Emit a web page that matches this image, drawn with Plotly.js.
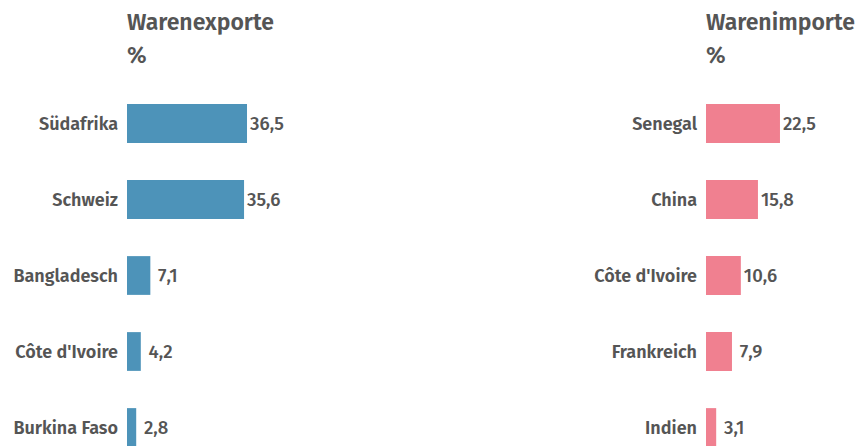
<!DOCTYPE html>
<html>
<head>
<meta charset="utf-8">
<script src="https://cdn.plot.ly/plotly-3.0.1.min.js"></script>
<style>html,body{margin:0;padding:0;background:#fff}#chart{width:857px;height:446px}</style>
</head>
<body>
<div id="chart"></div>
<script>
const exportCountries = ["Südafrika", "Schweiz", "Bangladesch", "Côte d'Ivoire", "Burkina Faso"];
const exportValues = [36.5, 35.6, 7.1, 4.2, 2.8];
const importCountries = ["Senegal", "China", "Côte d'Ivoire", "Frankreich", "Indien"];
const importValues = [22.5, 15.8, 10.6, 7.9, 3.1];
const titleExports = "Warenexporte";
const titleImports = "Warenimporte";
const unitLabel = "%";

const FONT = "Fira Sans, Noto Sans, Open Sans, sans-serif";
const GREY = "#555555";
const fmt = v => (v < 10 ? "\u2008" : "") + v.toFixed(1).replace(".", ",");

const H = 446, TOP = 85;
const plotH = H - TOP;
const pxY = p => (H - p) / plotH;

const barCommon = {
  type: "bar", orientation: "h", width: 0.51,
  textposition: "outside", cliponaxis: false,
  textfont: {family: FONT, size: 18.5, color: GREY, weight: 500},
  hoverinfo: "skip"
};

const traces = [
  Object.assign({}, barCommon, {
    x: exportValues, y: exportCountries, xaxis: "x", yaxis: "y",
    text: exportValues.map(fmt), marker: {color: "#4d93b9"}
  }),
  Object.assign({}, barCommon, {
    x: importValues, y: importCountries, xaxis: "x2", yaxis: "y2",
    text: importValues.map(fmt), marker: {color: "#f08090"}
  })
];

const pxPerUnit = 3.288;
const W = 857;
const lStart = 127, lEnd = 400, rStart = 706, rEnd = 857;
const yRange = [(H - 123.5) / 76, (TOP - 123.5) / 76];

const xa = (a, b, anchor) => ({
  domain: [a / W, b / W], range: [0, (b - a) / pxPerUnit],
  showgrid: false, zeroline: false, showticklabels: false, showline: false,
  anchor: anchor, fixedrange: true
});
const ya = (anchor, cats) => ({
  domain: [0, 1], type: "category", categoryorder: "array", categoryarray: cats,
  range: yRange, showgrid: false, zeroline: false, showline: false,
  ticks: "", ticklabelstandoff: 8,
  tickfont: {family: FONT, size: 18, color: GREY, weight: 600},
  anchor: anchor, fixedrange: true
});

const titleFont = {family: FONT, size: 23, color: GREY, weight: 600};
const ann = (xref, text, y) => ({
  xref: xref, yref: "paper", x: 0, y: y, xanchor: "left", yanchor: "middle",
  xshift: -2,
  text: text, showarrow: false, font: titleFont
});

const layout = {
  width: W, height: H,
  margin: {l: 0, r: 0, t: TOP, b: 0, pad: 0},
  paper_bgcolor: "#ffffff", plot_bgcolor: "#ffffff",
  showlegend: false,
  xaxis: xa(lStart, lEnd, "y"),
  yaxis: ya("x", exportCountries),
  xaxis2: xa(rStart, rEnd, "y2"),
  yaxis2: ya("x2", importCountries),
  annotations: [
    ann("x domain", titleExports, pxY(22)),
    ann("x domain", unitLabel, pxY(55)),
    ann("x2 domain", titleImports, pxY(22)),
    ann("x2 domain", unitLabel, pxY(55))
  ]
};

Plotly.newPlot("chart", traces, layout, {staticPlot: true, displayModeBar: false});
</script>
</body>
</html>
